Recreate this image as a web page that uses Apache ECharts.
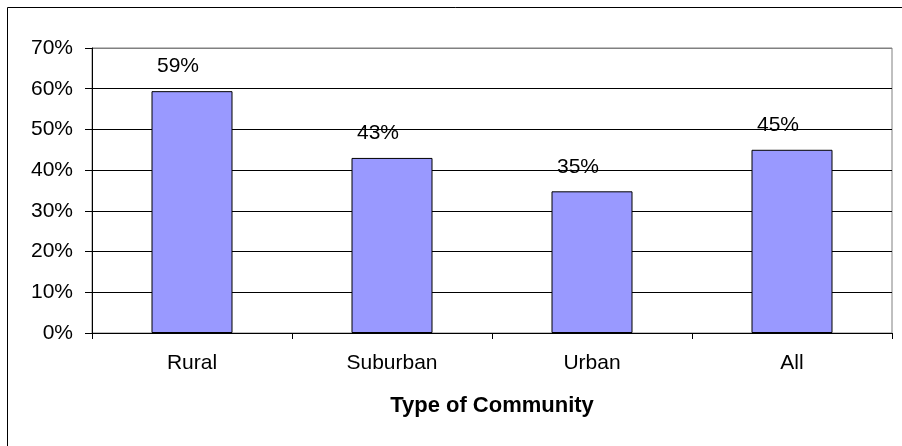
<!DOCTYPE html>
<html>
<head>
<meta charset="utf-8">
<script src="https://cdn.jsdelivr.net/npm/echarts@6/dist/echarts.min.js"></script>
<style>
html,body{margin:0;padding:0;background:#fff;}
#c{width:902px;height:446px;}
</style>
</head>
<body>
<div id="c"></div>
<script>
var categories = ['Rural', 'Suburban', 'Urban', 'All'];
var values = [59.4, 43, 34.8, 45];
var axisTitle = 'Type of Community';
var yTicks = [0, 10, 20, 30, 40, 50, 60, 70];

var FONT = '"Liberation Sans", Arial, sans-serif';
var chart = echarts.init(document.getElementById('c'), null, {renderer: 'canvas'});
var splitColors = yTicks.map(function (t, i) { return i === yTicks.length - 1 ? '#808080' : '#000000'; });

chart.setOption({
  animation: false,
  backgroundColor: '#ffffff',
  graphic: [{
    type: 'rect',
    shape: {x: 7.5, y: 7.5, width: 1000, height: 1000},
    style: {fill: 'none', stroke: '#000', lineWidth: 1},
    z: 100
  }],
  grid: {
    left: 92, right: 10, top: 48, bottom: 113,
    show: true, borderColor: '#808080', borderWidth: 1, backgroundColor: 'transparent'
  },
  xAxis: {
    type: 'category',
    data: categories,
    name: axisTitle,
    nameLocation: 'middle',
    nameGap: 62,
    nameTextStyle: {fontFamily: FONT, fontSize: 22, fontWeight: 'bold', color: '#000'},
    axisLine: {show: true, lineStyle: {color: '#000', width: 1}},
    axisTick: {show: true, length: 6, lineStyle: {color: '#000'}},
    axisLabel: {fontFamily: FONT, fontSize: 21, color: '#000', margin: 20},
    splitLine: {show: false}
  },
  yAxis: {
    type: 'value',
    min: yTicks[0],
    max: yTicks[yTicks.length - 1],
    interval: 10,
    axisLine: {show: true, lineStyle: {color: '#000', width: 1}},
    axisTick: {show: true, length: 7, lineStyle: {color: '#000'}},
    axisLabel: {fontFamily: FONT, fontSize: 21, color: '#000', margin: 19, formatter: '{value}%'},
    splitLine: {show: true, lineStyle: {color: splitColors, width: 1}}
  },
  series: [{
    type: 'bar',
    data: values,
    barWidth: 81,
    itemStyle: {color: '#9999FF', borderColor: '#000', borderWidth: 1},
    label: {
      show: true,
      position: 'top',
      distance: 14,
      offset: [-14, 0],
      fontFamily: FONT,
      fontSize: 21,
      color: '#000',
      formatter: function (p) { return Math.round(p.value) + '%'; }
    }
  }]
});
</script>
</body>
</html>
